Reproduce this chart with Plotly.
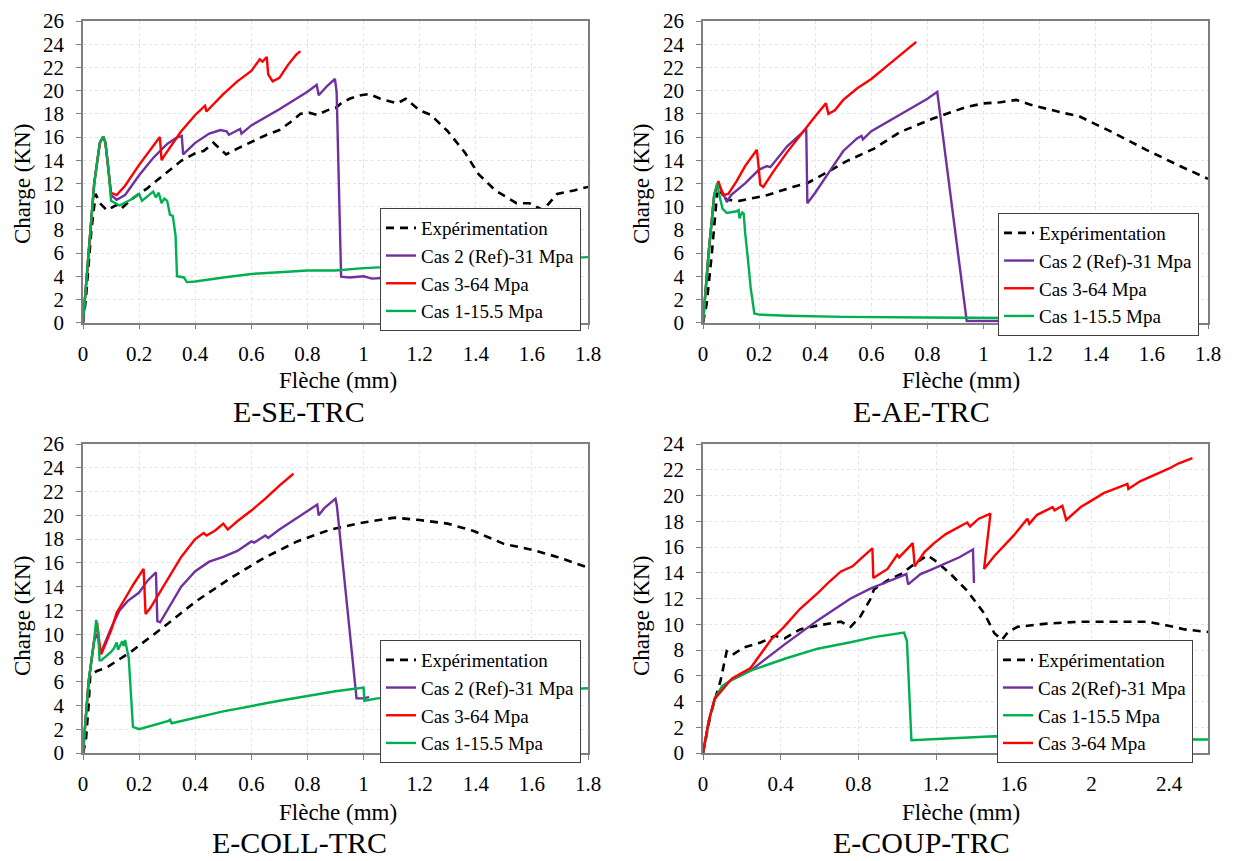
import plotly.graph_objects as go

# ---------------- data ----------------
# Panel 1 : E-SE-TRC
se_exp_x = [0, 0.01, 0.02, 0.03, 0.045, 0.06, 0.085, 0.12, 0.135, 0.17, 0.23, 0.29, 0.35, 0.4, 0.43, 0.465, 0.51, 0.55, 0.585, 0.62, 0.655, 0.7, 0.74, 0.775, 0.805, 0.835, 0.87, 0.9, 0.92, 0.95, 0.99, 1.02, 1.06, 1.12, 1.15, 1.2, 1.24, 1.3, 1.36, 1.41, 1.47, 1.545, 1.59, 1.64, 1.69, 1.75, 1.8]
se_exp_y = [0, 2, 5, 8, 11.1, 10.3, 9.7, 10.15, 9.8, 10.6, 11.6, 12.8, 13.95, 14.6, 14.8, 15.5, 14.5, 15.0, 15.4, 15.8, 16.2, 16.6, 17.3, 18.0, 18.1, 17.9, 18.3, 18.5, 18.9, 19.3, 19.6, 19.7, 19.3, 18.9, 19.3, 18.3, 17.9, 16.5, 14.7, 12.8, 11.4, 10.3, 10.3, 9.7, 11.1, 11.4, 11.7]
se_c2_x = [0, 0.02, 0.04, 0.06, 0.072, 0.08, 0.09, 0.1, 0.12, 0.15, 0.2, 0.25, 0.3, 0.33, 0.352, 0.357, 0.4, 0.45, 0.49, 0.512, 0.52, 0.55, 0.56, 0.565, 0.6, 0.7, 0.8, 0.833, 0.84, 0.87, 0.898, 0.904, 0.92, 0.95, 1.0, 1.03, 1.1]
se_c2_y = [0, 6, 12, 15.5, 16.05, 15.5, 13.5, 11, 10.6, 11, 12.7, 14.2, 15.4, 15.9, 16.1, 14.5, 15.5, 16.3, 16.6, 16.5, 16.2, 16.6, 16.7, 16.3, 17.0, 18.4, 19.9, 20.5, 19.6, 20.4, 21.0, 19.9, 3.97, 3.9, 4.0, 3.8, 3.9]
se_c3_x = [0, 0.02, 0.04, 0.06, 0.072, 0.08, 0.09, 0.1, 0.12, 0.15, 0.2, 0.25, 0.274, 0.28, 0.29, 0.35, 0.4, 0.435, 0.44, 0.5, 0.55, 0.6, 0.63, 0.64, 0.655, 0.66, 0.676, 0.7, 0.73, 0.76, 0.775]
se_c3_y = [0, 6, 12, 15.5, 16.05, 15.5, 13.5, 11.2, 11.0, 11.8, 13.6, 15.2, 16.0, 14.0, 14.4, 16.5, 17.9, 18.7, 18.2, 19.7, 20.8, 21.7, 22.7, 22.5, 22.9, 21.4, 20.8, 21.1, 22.2, 23.1, 23.4]
se_c1_x = [0, 0.02, 0.04, 0.06, 0.072, 0.08, 0.09, 0.1, 0.13, 0.17, 0.2, 0.21, 0.25, 0.26, 0.27, 0.28, 0.29, 0.3, 0.31, 0.32, 0.33, 0.335, 0.36, 0.37, 0.4, 0.5, 0.6, 0.7, 0.8, 0.9, 1.0, 1.8]
se_c1_y = [0, 6, 12, 15.5, 16.05, 15.5, 13.5, 10.5, 10.1, 10.6, 11.1, 10.5, 11.3, 10.8, 11.2, 10.3, 10.7, 10.5, 9.3, 9.2, 7.5, 4.0, 3.9, 3.5, 3.55, 3.9, 4.2, 4.35, 4.5, 4.5, 4.7, 5.65]

# Panel 2 : E-AE-TRC
ae_exp_x = [0, 0.013, 0.032, 0.044, 0.05, 0.06, 0.085, 0.13, 0.23, 0.32, 0.37, 0.43, 0.51, 0.61, 0.7, 0.82, 0.94, 1.0, 1.06, 1.117, 1.165, 1.28, 1.34, 1.46, 1.58, 1.7, 1.8]
ae_exp_y = [0, 1.6, 6.1, 9.5, 11.1, 11.2, 10.6, 10.5, 11.0, 11.7, 12.0, 12.8, 13.9, 15.0, 16.4, 17.6, 18.6, 18.9, 19.0, 19.2, 18.8, 18.1, 17.8, 16.4, 14.9, 13.5, 12.4]
ae_c2_x = [0, 0.02, 0.04, 0.055, 0.065, 0.08, 0.085, 0.1, 0.15, 0.2, 0.228, 0.24, 0.26, 0.3, 0.35, 0.368, 0.372, 0.4, 0.45, 0.5, 0.55, 0.565, 0.57, 0.6, 0.7, 0.8, 0.835, 0.94, 1.0, 1.39]
ae_c2_y = [0, 6, 11, 12.0, 11.5, 10.6, 10.4, 11.0, 12.0, 13.2, 13.5, 13.4, 14.0, 15.2, 16.3, 16.7, 10.3, 11.2, 13.0, 14.8, 15.9, 16.1, 15.8, 16.5, 17.9, 19.3, 19.9, 0.15, 0.15, 0.15]
ae_c3_x = [0, 0.02, 0.04, 0.055, 0.06, 0.07, 0.09, 0.12, 0.15, 0.192, 0.198, 0.204, 0.215, 0.25, 0.3, 0.35, 0.4, 0.438, 0.447, 0.47, 0.5, 0.55, 0.6, 0.65, 0.7, 0.76]
ae_c3_y = [0, 6, 11, 12.2, 11.8, 11.0, 11.1, 12.2, 13.5, 14.9, 13.5, 11.9, 11.7, 13.0, 14.7, 16.3, 17.8, 18.9, 18.0, 18.3, 19.2, 20.2, 21.0, 22.0, 23.0, 24.2]
ae_c1_x = [0, 0.02, 0.04, 0.05, 0.06, 0.07, 0.085, 0.1, 0.12, 0.127, 0.13, 0.135, 0.14, 0.145, 0.15, 0.16, 0.17, 0.183, 0.2, 0.3, 0.5, 0.8, 1.1]
ae_c1_y = [0, 6, 11, 12.0, 10.8, 9.8, 9.45, 9.5, 9.6, 9.7, 9.0, 9.3, 9.5, 9.4, 7.8, 5.5, 3.0, 0.8, 0.7, 0.6, 0.5, 0.45, 0.4]

# Panel 3 : E-COLL-TRC
co_exp_x = [0, 0.01, 0.02, 0.026, 0.05, 0.085, 0.17, 0.287, 0.405, 0.525, 0.644, 0.763, 0.882, 1.0, 1.11, 1.2, 1.3, 1.39, 1.44, 1.5, 1.6, 1.69, 1.8]
co_exp_y = [0, 1, 4, 6.6, 6.9, 7.2, 8.5, 10.6, 12.8, 14.7, 16.4, 17.8, 18.8, 19.4, 19.8, 19.6, 19.3, 18.7, 18.2, 17.6, 17.1, 16.5, 15.6]
co_c2_x = [0, 0.02, 0.04, 0.05, 0.055, 0.06, 0.065, 0.1, 0.13, 0.16, 0.2, 0.23, 0.26, 0.265, 0.275, 0.3, 0.35, 0.4, 0.45, 0.5, 0.55, 0.6, 0.61, 0.65, 0.66, 0.7, 0.8, 0.835, 0.84, 0.86, 0.9, 0.905, 0.975, 0.995, 1.02]
co_c2_y = [0, 6, 9.5, 10.0, 9.5, 8.7, 8.5, 10.5, 12.0, 12.8, 13.5, 14.5, 15.2, 11.1, 11.0, 12.0, 14.0, 15.3, 16.1, 16.5, 17.0, 17.8, 17.7, 18.3, 18.1, 18.8, 20.3, 20.9, 20.0, 20.6, 21.4, 20.8, 4.6, 4.6, 4.7]
co_c3_x = [0, 0.02, 0.04, 0.05, 0.06, 0.065, 0.1, 0.12, 0.15, 0.18, 0.216, 0.219, 0.223, 0.24, 0.3, 0.35, 0.4, 0.43, 0.44, 0.47, 0.5, 0.516, 0.55, 0.6, 0.65, 0.7, 0.75]
co_c3_y = [0, 6, 9.5, 11.0, 9.0, 8.3, 10.3, 11.8, 13.0, 14.2, 15.5, 14.0, 11.7, 12.2, 14.5, 16.5, 18.0, 18.5, 18.3, 18.7, 19.3, 18.8, 19.5, 20.4, 21.4, 22.5, 23.5]
co_c1_x = [0, 0.02, 0.04, 0.047, 0.055, 0.059, 0.065, 0.08, 0.1, 0.11, 0.12, 0.125, 0.14, 0.145, 0.15, 0.163, 0.166, 0.178, 0.2, 0.305, 0.31, 0.316, 0.5, 0.7, 0.9, 1.0, 1.003, 1.05, 1.8]
co_c1_y = [0, 6, 9.5, 11.2, 10.0, 7.8, 7.8, 8.1, 8.5, 8.8, 9.3, 8.7, 9.4, 9.0, 9.5, 8.0, 6.7, 2.2, 2.0, 2.7, 2.8, 2.5, 3.5, 4.4, 5.2, 5.5, 4.4, 4.6, 5.45]

# Panel 4 : E-COUP-TRC
cp_exp_x = [0, 0.04, 0.09, 0.122, 0.15, 0.21, 0.3, 0.37, 0.42, 0.5, 0.59, 0.71, 0.76, 0.81, 0.86, 0.88, 0.95, 1.02, 1.09, 1.155, 1.19, 1.275, 1.36, 1.45, 1.5, 1.54, 1.57, 1.62, 1.77, 1.94, 2.12, 2.29, 2.39, 2.48, 2.6]
cp_exp_y = [0, 3.06, 5.6, 7.9, 7.6, 8.2, 8.6, 9.1, 8.9, 9.6, 9.9, 10.2, 9.8, 10.6, 11.9, 12.7, 13.4, 13.9, 14.7, 15.35, 15.0, 13.9, 12.6, 10.8, 9.3, 8.8, 9.4, 9.8, 10.05, 10.2, 10.2, 10.2, 9.9, 9.6, 9.4]
cp_c2_x = [0, 0.03, 0.06, 0.1, 0.15, 0.245, 0.417, 0.59, 0.76, 0.867, 0.95, 1.0, 1.047, 1.056, 1.12, 1.17, 1.25, 1.32, 1.39, 1.395]
cp_c2_y = [0, 2.5, 4.2, 5.2, 5.7, 6.4, 8.4, 10.3, 12.0, 12.8, 13.3, 13.6, 13.9, 13.1, 13.9, 14.2, 14.7, 15.2, 15.8, 13.2]
cp_c1_x = [0, 0.03, 0.06, 0.1, 0.15, 0.245, 0.417, 0.59, 0.76, 0.88, 1.035, 1.045, 1.05, 1.073, 1.2, 1.5, 2.55, 2.6]
cp_c1_y = [0, 2.5, 4.2, 5.2, 5.7, 6.4, 7.3, 8.1, 8.6, 9.0, 9.36, 8.8, 8.7, 1.0, 1.1, 1.3, 1.05, 1.05]
cp_c3_x = [0, 0.03, 0.06, 0.108, 0.15, 0.245, 0.3, 0.35, 0.417, 0.5, 0.589, 0.65, 0.71, 0.77, 0.82, 0.872, 0.877, 0.92, 0.95, 1.0, 1.01, 1.08, 1.09, 1.14, 1.19, 1.25, 1.3, 1.36, 1.375, 1.42, 1.48, 1.447, 1.5, 1.55, 1.6, 1.67, 1.68, 1.72, 1.8, 1.81, 1.85, 1.87, 1.945, 2.0, 2.065, 2.1, 2.185, 2.19, 2.25, 2.34, 2.4, 2.45, 2.52]
cp_c3_y = [0, 2.5, 4.2, 5.1, 5.8, 6.6, 7.8, 8.8, 9.8, 11.2, 12.4, 13.3, 14.1, 14.5, 15.2, 15.9, 13.6, 14.0, 14.3, 15.4, 15.2, 16.3, 14.5, 15.6, 16.3, 17.0, 17.4, 17.9, 17.6, 18.2, 18.6, 14.3, 15.3, 16.1, 16.9, 18.2, 17.8, 18.5, 19.1, 18.85, 19.2, 18.1, 19.1, 19.6, 20.2, 20.4, 20.9, 20.5, 21.1, 21.7, 22.1, 22.5, 22.9]

panel_titles = ["E-SE-TRC", "E-AE-TRC", "E-COLL-TRC", "E-COUP-TRC"]
x_title = "Flèche (mm)"
y_title = "Charge (KN)"
name_exp = "Expérimentation"
name_c2 = "Cas 2 (Ref)-31 Mpa"
name_c2b = "Cas 2(Ref)-31 Mpa"
name_c3 = "Cas 3-64 Mpa"
name_c1 = "Cas 1-15.5 Mpa"

# ---------------- styling ----------------
FONT = "Liberation Serif, Times New Roman, serif"
PURPLE, RED, GREEN, BLACK = "#7030A0", "#FF0000", "#00B050", "#000000"
W, H = 1233, 861
OFF = 8  # the page's default body margin shifts the figure by 8 px

def px(p):
    return (p - OFF) / W

def py(p):
    return 1 - (p - OFF) / H

fig = go.Figure()

panels = [
    dict(n=1, xd=(83, 588), yd=(21, 322.7), xr=[0, 1.8], xdt=0.2, yr=[0, 26],
         leg=(380, 208),
         series=[(se_exp_x, se_exp_y, name_exp, BLACK, True),
                 (se_c2_x, se_c2_y, name_c2, PURPLE, False),
                 (se_c3_x, se_c3_y, name_c3, RED, False),
                 (se_c1_x, se_c1_y, name_c1, GREEN, False)]),
    dict(n=2, xd=(703, 1208), yd=(21, 322.7), xr=[0, 1.8], xdt=0.2, yr=[0, 26],
         leg=(998, 213),
         series=[(ae_exp_x, ae_exp_y, name_exp, BLACK, True),
                 (ae_c2_x, ae_c2_y, name_c2, PURPLE, False),
                 (ae_c3_x, ae_c3_y, name_c3, RED, False),
                 (ae_c1_x, ae_c1_y, name_c1, GREEN, False)]),
    dict(n=3, xd=(83, 588), yd=(444, 753), xr=[0, 1.8], xdt=0.2, yr=[0, 26],
         leg=(380, 640),
         series=[(co_exp_x, co_exp_y, name_exp, BLACK, True),
                 (co_c2_x, co_c2_y, name_c2, PURPLE, False),
                 (co_c3_x, co_c3_y, name_c3, RED, False),
                 (co_c1_x, co_c1_y, name_c1, GREEN, False)]),
    dict(n=4, xd=(703, 1208), yd=(444, 753), xr=[0, 2.6], xdt=0.4, yr=[0, 24],
         leg=(997, 640),
         series=[(cp_exp_x, cp_exp_y, name_exp, BLACK, True),
                 (cp_c2_x, cp_c2_y, name_c2b, PURPLE, False),
                 (cp_c1_x, cp_c1_y, name_c1, GREEN, False),
                 (cp_c3_x, cp_c3_y, name_c3, RED, False)]),
]

layout = dict(
    template="none",
    width=W, height=H, autosize=False,
    margin=dict(l=0, r=0, t=0, b=0, pad=0),
    paper_bgcolor="white", plot_bgcolor="white",
    font=dict(family=FONT, color="black", size=20),
    annotations=[],
)

axis_common = dict(
    automargin=False,
    ticklabeloverflow="allow",
    showline=True, linecolor="#7f7f7f", linewidth=1.5, mirror=True,
    showgrid=True, gridcolor="#e4e4e4", griddash="dot", gridwidth=1,
    ticks="outside", ticklen=5, tickcolor="#7f7f7f", tickwidth=1,
    tickfont=dict(family=FONT, size=21, color="black"),
    zeroline=False, fixedrange=True,
)

for p in panels:
    n = p["n"]
    sfx = "" if n == 1 else str(n)
    xa, ya = "x" + sfx, "y" + sfx
    leg = "legend" + sfx
    layout["xaxis" + sfx] = dict(axis_common, domain=[px(p["xd"][0]), px(p["xd"][1])],
                                  range=p["xr"], dtick=p["xdt"], tick0=0, anchor=ya,
                                  ticklabelstandoff=6)
    layout["yaxis" + sfx] = dict(axis_common, domain=[py(p["yd"][1]), py(p["yd"][0])],
                                  range=p["yr"], dtick=2, tick0=0, anchor=xa,
                                  ticklabelstandoff=8)
    layout[leg] = dict(x=px(p["leg"][0]), y=py(p["leg"][1]), xanchor="left", yanchor="top",
                       bgcolor="white", bordercolor="#404040", borderwidth=1,
                       font=dict(family=FONT, size=19, color="black"),
                       tracegroupgap=0, itemwidth=30)
    for (xs, ys, name, color, dashed) in p["series"]:
        fig.add_trace(go.Scatter(
            x=xs, y=ys, name=name, mode="lines", xaxis=xa, yaxis=ya, legend=leg,
            line=dict(color=color, width=2.6 if dashed else 2.4,
                      dash="8px,6px" if dashed else "solid"),
            showlegend=True, hoverinfo="skip"))

title_pos = [(299, 412), (921, 412), (299, 842), (921, 842)]
xt_pos = [(338, 380), (961, 380), (338, 812), (961, 812)]
yt_pos = [(22, 184), (641, 184), (22, 616), (641, 616)]
for i in range(4):
    layout["annotations"].append(dict(
        text=panel_titles[i], x=px(title_pos[i][0]), y=py(title_pos[i][1]),
        xref="paper", yref="paper", showarrow=False, xanchor="center", yanchor="middle",
        font=dict(family=FONT, size=30, color="black")))
    layout["annotations"].append(dict(
        text=x_title, x=px(xt_pos[i][0]), y=py(xt_pos[i][1]),
        xref="paper", yref="paper", showarrow=False, xanchor="center", yanchor="middle",
        font=dict(family=FONT, size=23, color="black")))
    layout["annotations"].append(dict(
        text=y_title, x=px(yt_pos[i][0]), y=py(yt_pos[i][1]), textangle=-90,
        xref="paper", yref="paper", showarrow=False, xanchor="center", yanchor="middle",
        font=dict(family=FONT, size=23, color="black")))

fig.update_layout(**layout)
fig.write_html("out.html")
